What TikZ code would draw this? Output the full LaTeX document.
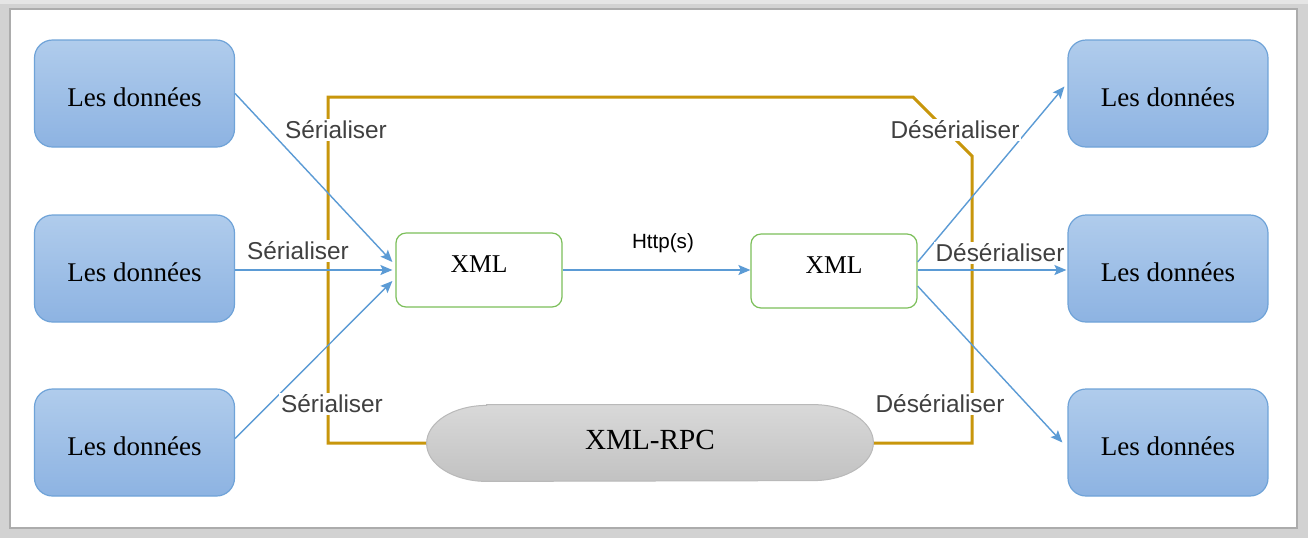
\documentclass[tikz,border=0pt]{standalone}
\usepackage{fontspec}
\newfontfamily\serifb{Liberation Serif}
\newfontfamily\sansb{Liberation Sans}
\usetikzlibrary{calc,arrows.meta}
\definecolor{boxtop}{HTML}{B0CCEC}
\definecolor{boxbot}{HTML}{8DB3E2}
\definecolor{boxline}{HTML}{6FA3D8}
\definecolor{arrowblue}{HTML}{5B9BD5}
\definecolor{xmlgreen}{HTML}{7CBF5A}
\definecolor{gold}{HTML}{C8960C}
\definecolor{labtext}{HTML}{404040}
\tikzset{
  databox/.style={draw=boxline, line width=0.6pt, rounded corners=9pt, top color=boxtop, bottom color=boxbot,
    minimum width=100pt, minimum height=53.5pt, font=\serifb\fontsize{13.5}{16}\selectfont, text=black,
    text height=13pt, text depth=0pt},
  xmlbox/.style={draw=xmlgreen, line width=0.6pt, rounded corners=5pt, fill=white,
    minimum width=83pt, minimum height=37pt, font=\serifb\fontsize{12.8}{15}\selectfont, text=black,
    text height=9pt, text depth=7pt},
  lab/.style={fill=white, inner sep=1pt, font=\sansb\fontsize{12.2}{14}\selectfont, text=labtext},
  conn/.style={draw=arrowblue, line width=0.7pt, -{Stealth[length=6pt,width=5pt,inset=1.2pt]}},
  goldline/.style={draw=gold, line width=1.5pt},
}
\begin{document}
\begin{tikzpicture}[x=0.5pt,y=-0.5pt]
\fill[gray!35] (0,0) rectangle (1308,538);
\fill[gray!20] (0,0) rectangle (1308,4);
\filldraw[fill=white, draw=gray!65, line width=0.7pt] (10,9) rectangle (1297,528);
\useasboundingbox (0,0) rectangle (1308,538);

% boxes
\node[databox] (L1) at (134.5,93.5) {Les données};
\node[databox] (L2) at (134.5,268.5) {Les données};
\node[databox] (L3) at (134.5,442.5) {Les données};
\node[databox] (R1) at (1168,93.5) {Les données};
\node[databox] (R2) at (1168,268.5) {Les données};
\node[databox] (R3) at (1168,442.5) {Les données};
\node[xmlbox] (X1) at (479,270) {XML};
\node[xmlbox] (X2) at (834,271) {XML};

% XML-RPC shape
\node[minimum width=223pt, minimum height=38pt, inner sep=0pt] (rpc) at (650,443) {};
\draw[goldline] (rpc.west) -- (328,443) -- (328,97) -- (913,97) -- (972,156) -- (972,443) -- (rpc.east);
\path[top color=gray!30, bottom color=gray!48, draw=gray!55, line width=0.5pt]
  ($(rpc.north west)+(60,0)$) -- ($(rpc.north east)+(-60,0)$)
  arc[start angle=-90, end angle=90, x radius=60, y radius=38]
  -- ($(rpc.south west)+(60,0)$)
  arc[start angle=90, end angle=270, x radius=60, y radius=38] -- cycle;
\node[font=\serifb\fontsize{14.6}{17}\selectfont, text=black] at ($(rpc.center)+(0,-3)$) {XML-RPC};

% connectors
\draw[conn] (L1.east) -- ($(X1.west)+(-3,-8)$);
\draw[conn] (L2.east |- X1.west) -- ($(X1.west)+(-3,0)$);
\draw[conn] ($(L3.east)+(0,-4)$) -- ($(X1.west)+(-3,11)$);
\draw[conn] (X1.east) -- (X2.west |- X1.east);
\draw[conn] ($(X2.east)+(0,-9)$) -- ($(R1.west)+(-3,-7)$);
\draw[conn] ($(X2.east)+(0,-1)$) -- ($(R2.west |- X2.east)+(-1,-1)$);
\draw[conn] ($(X2.east)+(0,15)$) -- ($(R3.west)+(-5,0)$);

% labels
\node[lab] at (336,130) {Sérialiser};
\node[lab] at (298,251) {Sérialiser};
\node[lab] at (332,404) {Sérialiser};
\node[lab] at (955,130) {Désérialiser};
\node[lab] at (1000,253) {Désérialiser};
\node[lab] at (940,404) {Désérialiser};
\node[font=\sansb\fontsize{10.3}{12}\selectfont, text=black] at (663,243) {Http(s)};
\end{tikzpicture}
\end{document}
